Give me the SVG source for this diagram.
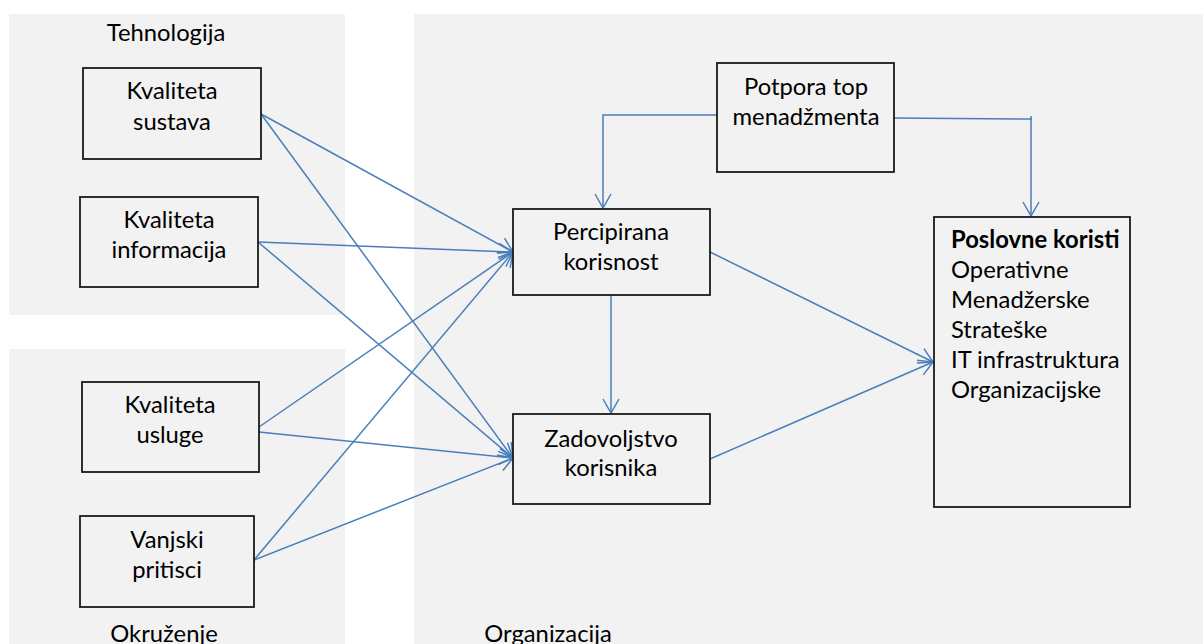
<svg xmlns="http://www.w3.org/2000/svg" width="1203" height="644" viewBox="0 0 1203 644">
<style>
.panel{fill:#F2F2F2;stroke:none}
.box{fill:#F2F2F2;stroke:#1a1a1a;stroke-width:1.8}
.t{font-family:Lato,"Liberation Sans",sans-serif;font-size:23.8px;fill:#000}
.c{text-anchor:middle}
.b{font-weight:bold}
.con{stroke:#4A7EBB;stroke-width:1.5;fill:none}
</style>
<defs>
<marker id="arr" markerUnits="userSpaceOnUse" markerWidth="20" markerHeight="20" viewBox="-16 -10 20 20" refX="0" refY="0" orient="auto" overflow="visible">
<path d="M-14,-8 L0,0 L-14,8" fill="none" stroke="#4A7EBB" stroke-width="1.5"/>
</marker>
</defs>
<rect width="1203" height="644" fill="#FFFFFF"/>
<g id="panels">
<rect class="panel" x="9" y="14" width="336" height="301"/>
<rect class="panel" x="9" y="349" width="336" height="295"/>
<rect class="panel" x="414" y="14" width="789" height="630"/>
<text class="t c" x="166" y="41">Tehnologija</text>
<text class="t c" x="164" y="642">Okruženje</text>
<text class="t c" x="548" y="642">Organizacija</text>
</g>
<g id="connectors">
<line class="con" x1="261" y1="114" x2="513" y2="252" marker-end="url(#arr)"/>
<line class="con" x1="261" y1="114" x2="513" y2="458" marker-end="url(#arr)"/>
<line class="con" x1="258" y1="242" x2="513" y2="252" marker-end="url(#arr)"/>
<line class="con" x1="258" y1="242" x2="513" y2="458" marker-end="url(#arr)"/>
<line class="con" x1="259" y1="427" x2="513" y2="252" marker-end="url(#arr)"/>
<line class="con" x1="259" y1="432" x2="513" y2="458" marker-end="url(#arr)"/>
<line class="con" x1="254" y1="560" x2="513" y2="252" marker-end="url(#arr)"/>
<line class="con" x1="254" y1="560" x2="513" y2="458" marker-end="url(#arr)"/>
<polyline class="con" points="717,115 603,115 603,208" marker-end="url(#arr)"/>
<polyline class="con" points="894,118 1031,119 1031,216" marker-end="url(#arr)"/>
<line class="con" x1="1031" y1="116" x2="1031" y2="120"/>
<line class="con" x1="611" y1="295" x2="611" y2="413" marker-end="url(#arr)"/>
<line class="con" x1="710" y1="252" x2="933" y2="362" marker-end="url(#arr)"/>
<line class="con" x1="710" y1="459" x2="933" y2="362" marker-end="url(#arr)"/>
</g>
<g id="kvaliteta-sustava">
<rect class="box" x="83" y="68" width="178" height="91"/>
<text class="t c" x="172" y="99">Kvaliteta</text>
<text class="t c" x="172" y="130">sustava</text>
</g>
<g id="kvaliteta-informacija">
<rect class="box" x="80" y="197" width="178" height="90"/>
<text class="t c" x="169" y="228">Kvaliteta</text>
<text class="t c" x="169" y="258">informacija</text>
</g>
<g id="kvaliteta-usluge">
<rect class="box" x="82" y="382" width="177" height="90"/>
<text class="t c" x="170" y="413">Kvaliteta</text>
<text class="t c" x="170" y="443">usluge</text>
</g>
<g id="vanjski-pritisci">
<rect class="box" x="80" y="516" width="174" height="91"/>
<text class="t c" x="167" y="548">Vanjski</text>
<text class="t c" x="167" y="578">pritisci</text>
</g>
<g id="potpora">
<rect class="box" x="717" y="63" width="177" height="109"/>
<text class="t c" x="806" y="95">Potpora top</text>
<text class="t c" x="806" y="125">menadžmenta</text>
</g>
<g id="percipirana">
<rect class="box" x="513" y="209" width="197" height="86"/>
<text class="t c" x="611" y="240">Percipirana</text>
<text class="t c" x="611" y="270">korisnost</text>
</g>
<g id="zadovoljstvo">
<rect class="box" x="513" y="414" width="197" height="90"/>
<text class="t c" x="611" y="447">Zadovoljstvo</text>
<text class="t c" x="611" y="476">korisnika</text>
</g>
<g id="poslovne-koristi">
<rect class="box" x="934" y="217" width="196" height="290"/>
<text class="t b" x="951" y="248">Poslovne koristi</text>
<text class="t" x="951" y="278">Operativne</text>
<text class="t" x="951" y="308">Menadžerske</text>
<text class="t" x="951" y="338">Strateške</text>
<text class="t" x="951" y="368">IT infrastruktura</text>
<text class="t" x="951" y="398">Organizacijske</text>
</g>
</svg>
